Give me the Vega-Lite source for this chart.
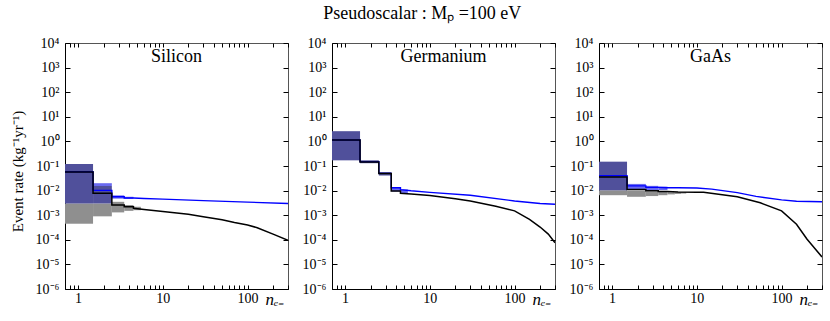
{
"$schema":"https://vega.github.io/schema/vega-lite/v6.json",
"autosize":{"type":"pad"},
"padding":{"left":9,"top":4,"right":8,"bottom":5},
"background":"white",
"title":{"text":"Pseudoscalar : Mₚ =100 eV","font":"Liberation Serif","fontSize":18,"fontWeight":"normal","color":"black","anchor":"middle","offset":-1,"dx":6,"baseline":"alphabetic","frame":"bounds"},
"config":{"view":{"stroke":"#555555","strokeWidth":1},"concat":{"spacing":44},"axis":{"minExtent":0,"labelFont":"Liberation Serif","titleFont":"Liberation Serif","labelColor":"black","titleColor":"black","domainColor":"black","tickColor":"black","grid":false,"labelFontSize":14,"titleFontWeight":"normal"}},
"bounds":"flush",
"datasets":{
"names":[{"p":"Si","name":"Silicon"},{"p":"Ge","name":"Germanium"},{"p":"GaAs","name":"GaAs"}],
"rects":[
{"p":"Si","x1":0.7,"x2":1.5,"y1":0.00045,"y2":0.003,"k":"grey"},
{"p":"Si","x1":0.7,"x2":1.5,"y1":0.003,"y2":0.12,"k":"navy"},
{"p":"Si","x1":1.5,"x2":2.5,"y1":0.0009,"y2":0.003,"k":"grey"},
{"p":"Si","x1":1.5,"x2":2.5,"y1":0.003,"y2":0.0154,"k":"navy"},
{"p":"Si","x1":1.5,"x2":2.5,"y1":0.0154,"y2":0.02,"k":"light"},
{"p":"Si","x1":2.5,"x2":3.5,"y1":0.0013,"y2":0.0035,"k":"grey"},
{"p":"Si","x1":2.5,"x2":3.5,"y1":0.0047,"y2":0.0064,"k":"light"},
{"p":"Si","x1":3.5,"x2":4.5,"y1":0.0015,"y2":0.0026,"k":"grey"},
{"p":"Si","x1":3.5,"x2":4.5,"y1":0.0046,"y2":0.0056,"k":"light"},
{"p":"Si","x1":4.5,"x2":5.5,"y1":0.0016,"y2":0.0022,"k":"grey"},
{"p":"Ge","x1":0.7,"x2":1.5,"y1":0.17,"y2":2.6,"k":"navy"},
{"p":"Ge","x1":1.5,"x2":2.5,"y1":0.13,"y2":0.17,"k":"navy"},
{"p":"Ge","x1":2.5,"x2":3.5,"y1":0.041,"y2":0.056,"k":"navy"},
{"p":"Ge","x1":3.5,"x2":4.5,"y1":0.0092,"y2":0.0135,"k":"light"},
{"p":"Ge","x1":4.5,"x2":5.5,"y1":0.0075,"y2":0.0112,"k":"light"},
{"p":"GaAs","x1":0.7,"x2":1.5,"y1":0.0065,"y2":0.0103,"k":"grey"},
{"p":"GaAs","x1":0.7,"x2":1.5,"y1":0.0103,"y2":0.15,"k":"navy"},
{"p":"GaAs","x1":1.5,"x2":2.5,"y1":0.0056,"y2":0.0099,"k":"grey"},
{"p":"GaAs","x1":1.5,"x2":2.5,"y1":0.0115,"y2":0.0187,"k":"light"},
{"p":"GaAs","x1":2.5,"x2":3.5,"y1":0.006,"y2":0.0093,"k":"grey"},
{"p":"GaAs","x1":2.5,"x2":3.5,"y1":0.0103,"y2":0.0156,"k":"light"},
{"p":"GaAs","x1":3.5,"x2":4.5,"y1":0.0065,"y2":0.009,"k":"grey"},
{"p":"GaAs","x1":3.5,"x2":4.5,"y1":0.0105,"y2":0.0145,"k":"light"},
{"p":"GaAs","x1":4.5,"x2":5.5,"y1":0.007,"y2":0.0088,"k":"grey"},
{"p":"GaAs","x1":5.5,"x2":6.5,"y1":0.0073,"y2":0.0087,"k":"grey"},
{"p":"GaAs","x1":6.5,"x2":7.5,"y1":0.0076,"y2":0.0086,"k":"grey"}
],
"lines":[
{"p":"Si","s":"black","i":1,"n":0.7,"r":0.057},{"p":"Si","s":"black","i":2,"n":1.5,"r":0.057},{"p":"Si","s":"black","i":3,"n":1.5,"r":0.0078},{"p":"Si","s":"black","i":4,"n":2.5,"r":0.0078},{"p":"Si","s":"black","i":5,"n":2.5,"r":0.0026},{"p":"Si","s":"black","i":6,"n":3.5,"r":0.0026},{"p":"Si","s":"black","i":7,"n":3.5,"r":0.0022},{"p":"Si","s":"black","i":8,"n":4.5,"r":0.0022},{"p":"Si","s":"black","i":9,"n":4.5,"r":0.0019},{"p":"Si","s":"black","i":10,"n":6,"r":0.0017},{"p":"Si","s":"black","i":11,"n":10,"r":0.0014},{"p":"Si","s":"black","i":12,"n":20,"r":0.0011},{"p":"Si","s":"black","i":13,"n":30,"r":0.00087},{"p":"Si","s":"black","i":14,"n":50,"r":0.00065},{"p":"Si","s":"black","i":15,"n":70,"r":0.0005},{"p":"Si","s":"black","i":16,"n":100,"r":0.0004},{"p":"Si","s":"black","i":17,"n":130,"r":0.00031},{"p":"Si","s":"black","i":18,"n":200,"r":0.00017},{"p":"Si","s":"black","i":19,"n":300,"r":0.000095},
{"p":"Si","s":"blue","i":1,"n":0.7,"r":0.058},{"p":"Si","s":"blue","i":2,"n":1.5,"r":0.058},{"p":"Si","s":"blue","i":3,"n":1.5,"r":0.0102},{"p":"Si","s":"blue","i":4,"n":2.5,"r":0.0102},{"p":"Si","s":"blue","i":5,"n":2.5,"r":0.0056},{"p":"Si","s":"blue","i":6,"n":3.5,"r":0.0056},{"p":"Si","s":"blue","i":7,"n":3.5,"r":0.005},{"p":"Si","s":"blue","i":8,"n":4.5,"r":0.005},{"p":"Si","s":"blue","i":9,"n":6,"r":0.0048},{"p":"Si","s":"blue","i":10,"n":10,"r":0.0045},{"p":"Si","s":"blue","i":11,"n":30,"r":0.0039},{"p":"Si","s":"blue","i":12,"n":100,"r":0.0034},{"p":"Si","s":"blue","i":13,"n":300,"r":0.003},
{"p":"Ge","s":"black","i":1,"n":0.7,"r":1.14},{"p":"Ge","s":"black","i":2,"n":1.5,"r":1.14},{"p":"Ge","s":"black","i":3,"n":1.5,"r":0.145},{"p":"Ge","s":"black","i":4,"n":2.5,"r":0.145},{"p":"Ge","s":"black","i":5,"n":2.5,"r":0.049},{"p":"Ge","s":"black","i":6,"n":3.5,"r":0.049},{"p":"Ge","s":"black","i":7,"n":3.5,"r":0.0096},{"p":"Ge","s":"black","i":8,"n":4.5,"r":0.0096},{"p":"Ge","s":"black","i":9,"n":4.5,"r":0.0078},{"p":"Ge","s":"black","i":10,"n":6,"r":0.0073},{"p":"Ge","s":"black","i":11,"n":10,"r":0.0063},{"p":"Ge","s":"black","i":12,"n":20,"r":0.0047},{"p":"Ge","s":"black","i":13,"n":30,"r":0.0038},{"p":"Ge","s":"black","i":14,"n":60,"r":0.0023},{"p":"Ge","s":"black","i":15,"n":100,"r":0.0015},{"p":"Ge","s":"black","i":16,"n":150,"r":0.00068},{"p":"Ge","s":"black","i":17,"n":200,"r":0.00033},{"p":"Ge","s":"black","i":18,"n":250,"r":0.00017},{"p":"Ge","s":"black","i":19,"n":300,"r":0.000076},
{"p":"Ge","s":"blue","i":1,"n":0.7,"r":1.14},{"p":"Ge","s":"blue","i":2,"n":1.5,"r":1.14},{"p":"Ge","s":"blue","i":3,"n":1.5,"r":0.15},{"p":"Ge","s":"blue","i":4,"n":2.5,"r":0.15},{"p":"Ge","s":"blue","i":5,"n":2.5,"r":0.05},{"p":"Ge","s":"blue","i":6,"n":3.5,"r":0.05},{"p":"Ge","s":"blue","i":7,"n":3.5,"r":0.013},{"p":"Ge","s":"blue","i":8,"n":4.5,"r":0.013},{"p":"Ge","s":"blue","i":9,"n":4.5,"r":0.011},{"p":"Ge","s":"blue","i":10,"n":6,"r":0.0098},{"p":"Ge","s":"blue","i":11,"n":10,"r":0.0085},{"p":"Ge","s":"blue","i":12,"n":30,"r":0.0065},{"p":"Ge","s":"blue","i":13,"n":100,"r":0.0038},{"p":"Ge","s":"blue","i":14,"n":200,"r":0.003},{"p":"Ge","s":"blue","i":15,"n":300,"r":0.0028},
{"p":"GaAs","s":"black","i":1,"n":0.7,"r":0.036},{"p":"GaAs","s":"black","i":2,"n":1.5,"r":0.036},{"p":"GaAs","s":"black","i":3,"n":1.5,"r":0.011},{"p":"GaAs","s":"black","i":4,"n":2.5,"r":0.011},{"p":"GaAs","s":"black","i":5,"n":2.5,"r":0.0098},{"p":"GaAs","s":"black","i":6,"n":3.5,"r":0.0098},{"p":"GaAs","s":"black","i":7,"n":3.5,"r":0.0093},{"p":"GaAs","s":"black","i":8,"n":4.5,"r":0.0093},{"p":"GaAs","s":"black","i":9,"n":6,"r":0.0088},{"p":"GaAs","s":"black","i":10,"n":10,"r":0.0085},{"p":"GaAs","s":"black","i":11,"n":12,"r":0.0086},{"p":"GaAs","s":"black","i":12,"n":20,"r":0.0068},{"p":"GaAs","s":"black","i":13,"n":30,"r":0.0056},{"p":"GaAs","s":"black","i":14,"n":56,"r":0.0032},{"p":"GaAs","s":"black","i":15,"n":100,"r":0.0015},{"p":"GaAs","s":"black","i":16,"n":150,"r":0.00043},{"p":"GaAs","s":"black","i":17,"n":200,"r":0.000105},{"p":"GaAs","s":"black","i":18,"n":250,"r":0.000042},{"p":"GaAs","s":"black","i":19,"n":300,"r":0.00002},
{"p":"GaAs","s":"blue","i":1,"n":0.7,"r":0.04},{"p":"GaAs","s":"blue","i":2,"n":1.5,"r":0.04},{"p":"GaAs","s":"blue","i":3,"n":1.5,"r":0.0156},{"p":"GaAs","s":"blue","i":4,"n":2.5,"r":0.0156},{"p":"GaAs","s":"blue","i":5,"n":2.5,"r":0.0135},{"p":"GaAs","s":"blue","i":6,"n":3.5,"r":0.0135},{"p":"GaAs","s":"blue","i":7,"n":4.5,"r":0.013},{"p":"GaAs","s":"blue","i":8,"n":6,"r":0.013},{"p":"GaAs","s":"blue","i":9,"n":10,"r":0.0128},{"p":"GaAs","s":"blue","i":10,"n":15,"r":0.0115},{"p":"GaAs","s":"blue","i":11,"n":30,"r":0.0083},{"p":"GaAs","s":"blue","i":12,"n":50,"r":0.0058},{"p":"GaAs","s":"blue","i":13,"n":100,"r":0.0042},{"p":"GaAs","s":"blue","i":14,"n":150,"r":0.0037},{"p":"GaAs","s":"blue","i":15,"n":300,"r":0.0035}
]
},
"hconcat":[
{"width":223,"height":246,
 "layer":[
  {"data":{"name":"rects"},"transform":[{"filter":"datum.p=='Si'"}],"mark":{"type":"rect","clip":true},
   "encoding":{"x":{"field":"x1","type":"quantitative","scale":{"type":"log","domain":[0.7,300],"nice":false},"axis":{"orient":"bottom","values":[0.8,0.9,1,2,3,4,5,6,7,8,9,10,20,30,40,50,60,70,80,90,100,200,300],"labelExpr":"(datum.value==1||datum.value==10||datum.value==100) ? datum.label : ''","tickSize":-4,"labelPadding":6,"labelOverlap":false,"labelFlush":false,"labelBound":false,"title":"nₑ₋","titleFontStyle":"italic","titleFontSize":17,"titleX":219,"titleY":15,"titleAlign":"right","titleBaseline":"alphabetic"}},
    "x2":{"field":"x2"},
    "y":{"field":"y1","type":"quantitative","scale":{"type":"log","domain":[1e-6,1e4],"nice":false},"axis":{"orient":"left","values":[1e-6,1e-5,1e-4,1e-3,1e-2,1e-1,1,10,100,1000,10000],"labelExpr":"['10⁻⁶','10⁻⁵','10⁻⁴','10⁻³','10⁻²','10⁻¹','10⁰','10¹','10²','10³','10⁴'][round(log(datum.value)/LN10)+6]","tickSize":-5,"labelPadding":11,"labelOverlap":false,"labelFlush":false,"title":"Event rate (kg⁻¹yr⁻¹)","titleFontSize":15,"titleAngle":-90,"titleX":-48,"titleY":128,"titleAlign":"center","titleBaseline":"middle"}},
    "y2":{"field":"y2"},
    "color":{"field":"k","type":"nominal","scale":{"domain":["grey","navy","light"],"range":["#8f8f8f","#50509b","#6a6af0"]},"legend":null}}},
  {"data":{"name":"lines"},"transform":[{"filter":"datum.p=='Si' && datum.s=='blue'"}],"mark":{"type":"line","color":"#0000ff","strokeWidth":1.4,"clip":true},
   "encoding":{"x":{"field":"n","type":"quantitative","axis":null},"y":{"field":"r","type":"quantitative","axis":null},"order":{"field":"i"}}},
  {"data":{"name":"names"},"transform":[{"filter":"datum.p=='Si'"}],"mark":{"type":"text","font":"Liberation Serif","fontSize":18,"color":"black","baseline":"alphabetic","align":"center"},
   "encoding":{"x":{"datum":14.5,"type":"quantitative","axis":null},"y":{"datum":1700,"type":"quantitative","axis":null},"text":{"field":"name"}}},
  {"data":{"name":"lines"},"transform":[{"filter":"datum.p=='Si' && datum.s=='black'"}],"mark":{"type":"line","color":"#000000","strokeWidth":1.5,"clip":true},
   "encoding":{"x":{"field":"n","type":"quantitative","axis":{"orient":"top","values":[0.8,0.9,1,2,3,4,5,6,7,8,9,10,20,30,40,50,60,70,80,90,100,200,300],"labels":false,"domain":false,"tickSize":-4,"title":null}},
    "y":{"field":"r","type":"quantitative","axis":{"orient":"right","values":[1e-6,1e-5,1e-4,1e-3,1e-2,1e-1,1,10,100,1000,10000],"labels":false,"domain":false,"tickSize":-5,"title":null}},"order":{"field":"i"}}}
 ],
 "resolve":{"axis":{"x":"independent","y":"independent"}}
},
{"width":223,"height":246,
 "layer":[
  {"data":{"name":"rects"},"transform":[{"filter":"datum.p=='Ge'"}],"mark":{"type":"rect","clip":true},
   "encoding":{"x":{"field":"x1","type":"quantitative","scale":{"type":"log","domain":[0.7,300],"nice":false},"axis":{"orient":"bottom","values":[0.8,0.9,1,2,3,4,5,6,7,8,9,10,20,30,40,50,60,70,80,90,100,200,300],"labelExpr":"(datum.value==1||datum.value==10||datum.value==100) ? datum.label : ''","tickSize":-4,"labelPadding":6,"labelOverlap":false,"labelFlush":false,"labelBound":false,"title":"nₑ₋","titleFontStyle":"italic","titleFontSize":17,"titleX":219,"titleY":15,"titleAlign":"right","titleBaseline":"alphabetic"}},
    "x2":{"field":"x2"},
    "y":{"field":"y1","type":"quantitative","scale":{"type":"log","domain":[1e-6,1e4],"nice":false},"axis":{"orient":"left","values":[1e-6,1e-5,1e-4,1e-3,1e-2,1e-1,1,10,100,1000,10000],"labelExpr":"['10⁻⁶','10⁻⁵','10⁻⁴','10⁻³','10⁻²','10⁻¹','10⁰','10¹','10²','10³','10⁴'][round(log(datum.value)/LN10)+6]","tickSize":-5,"labelPadding":11,"labelOverlap":false,"labelFlush":false,"title":null}},
    "y2":{"field":"y2"},
    "color":{"field":"k","type":"nominal","scale":{"domain":["grey","navy","light"],"range":["#8f8f8f","#50509b","#6a6af0"]},"legend":null}}},
  {"data":{"name":"lines"},"transform":[{"filter":"datum.p=='Ge' && datum.s=='blue'"}],"mark":{"type":"line","color":"#0000ff","strokeWidth":1.4,"clip":true},
   "encoding":{"x":{"field":"n","type":"quantitative","axis":null},"y":{"field":"r","type":"quantitative","axis":null},"order":{"field":"i"}}},
  {"data":{"name":"names"},"transform":[{"filter":"datum.p=='Ge'"}],"mark":{"type":"text","font":"Liberation Serif","fontSize":18,"color":"black","baseline":"alphabetic","align":"center"},
   "encoding":{"x":{"datum":14.5,"type":"quantitative","axis":null},"y":{"datum":1700,"type":"quantitative","axis":null},"text":{"field":"name"}}},
  {"data":{"name":"lines"},"transform":[{"filter":"datum.p=='Ge' && datum.s=='black'"}],"mark":{"type":"line","color":"#000000","strokeWidth":1.5,"clip":true},
   "encoding":{"x":{"field":"n","type":"quantitative","axis":{"orient":"top","values":[0.8,0.9,1,2,3,4,5,6,7,8,9,10,20,30,40,50,60,70,80,90,100,200,300],"labels":false,"domain":false,"tickSize":-4,"title":null}},
    "y":{"field":"r","type":"quantitative","axis":{"orient":"right","values":[1e-6,1e-5,1e-4,1e-3,1e-2,1e-1,1,10,100,1000,10000],"labels":false,"domain":false,"tickSize":-5,"title":null}},"order":{"field":"i"}}}
 ],
 "resolve":{"axis":{"x":"independent","y":"independent"}}
},
{"width":223,"height":246,
 "layer":[
  {"data":{"name":"rects"},"transform":[{"filter":"datum.p=='GaAs'"}],"mark":{"type":"rect","clip":true},
   "encoding":{"x":{"field":"x1","type":"quantitative","scale":{"type":"log","domain":[0.7,300],"nice":false},"axis":{"orient":"bottom","values":[0.8,0.9,1,2,3,4,5,6,7,8,9,10,20,30,40,50,60,70,80,90,100,200,300],"labelExpr":"(datum.value==1||datum.value==10||datum.value==100) ? datum.label : ''","tickSize":-4,"labelPadding":6,"labelOverlap":false,"labelFlush":false,"labelBound":false,"title":"nₑ₋","titleFontStyle":"italic","titleFontSize":17,"titleX":219,"titleY":15,"titleAlign":"right","titleBaseline":"alphabetic"}},
    "x2":{"field":"x2"},
    "y":{"field":"y1","type":"quantitative","scale":{"type":"log","domain":[1e-6,1e4],"nice":false},"axis":{"orient":"left","values":[1e-6,1e-5,1e-4,1e-3,1e-2,1e-1,1,10,100,1000,10000],"labelExpr":"['10⁻⁶','10⁻⁵','10⁻⁴','10⁻³','10⁻²','10⁻¹','10⁰','10¹','10²','10³','10⁴'][round(log(datum.value)/LN10)+6]","tickSize":-5,"labelPadding":11,"labelOverlap":false,"labelFlush":false,"title":null}},
    "y2":{"field":"y2"},
    "color":{"field":"k","type":"nominal","scale":{"domain":["grey","navy","light"],"range":["#8f8f8f","#50509b","#6a6af0"]},"legend":null}}},
  {"data":{"name":"lines"},"transform":[{"filter":"datum.p=='GaAs' && datum.s=='blue'"}],"mark":{"type":"line","color":"#0000ff","strokeWidth":1.4,"clip":true},
   "encoding":{"x":{"field":"n","type":"quantitative","axis":null},"y":{"field":"r","type":"quantitative","axis":null},"order":{"field":"i"}}},
  {"data":{"name":"names"},"transform":[{"filter":"datum.p=='GaAs'"}],"mark":{"type":"text","font":"Liberation Serif","fontSize":18,"color":"black","baseline":"alphabetic","align":"center"},
   "encoding":{"x":{"datum":14.5,"type":"quantitative","axis":null},"y":{"datum":1700,"type":"quantitative","axis":null},"text":{"field":"name"}}},
  {"data":{"name":"lines"},"transform":[{"filter":"datum.p=='GaAs' && datum.s=='black'"}],"mark":{"type":"line","color":"#000000","strokeWidth":1.5,"clip":true},
   "encoding":{"x":{"field":"n","type":"quantitative","axis":{"orient":"top","values":[0.8,0.9,1,2,3,4,5,6,7,8,9,10,20,30,40,50,60,70,80,90,100,200,300],"labels":false,"domain":false,"tickSize":-4,"title":null}},
    "y":{"field":"r","type":"quantitative","axis":{"orient":"right","values":[1e-6,1e-5,1e-4,1e-3,1e-2,1e-1,1,10,100,1000,10000],"labels":false,"domain":false,"tickSize":-5,"title":null}},"order":{"field":"i"}}}
 ],
 "resolve":{"axis":{"x":"independent","y":"independent"}}
}
]
}
